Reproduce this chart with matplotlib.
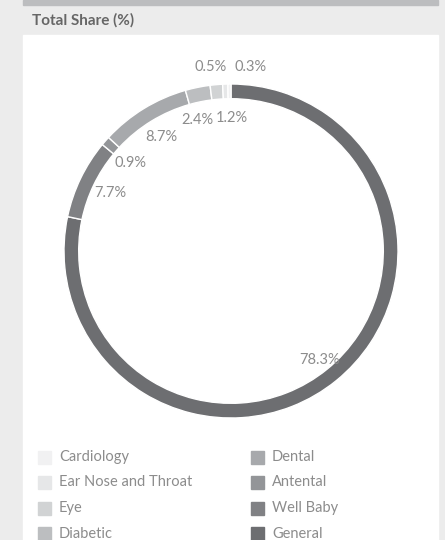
"""
Donut chart of total share by clinic type.
"""

import matplotlib
matplotlib.use('Agg')
import matplotlib.pyplot as plt
from matplotlib.patches import Rectangle
import numpy as np

# Data (clockwise from 12 o'clock)
categories = ['General', 'Well Baby', 'Antental', 'Dental',
              'Diabetic', 'Eye', 'Ear Nose and Throat', 'Cardiology']
shares = [78.3, 7.7, 0.9, 8.7, 2.4, 1.2, 0.5, 0.3]
colors = ['#6d6e71', '#808184', '#939598', '#a7a9ac',
          '#bcbec0', '#d1d3d4', '#e6e7e8', '#f1f1f2']

# legend order (two columns of four)
legend_order = ['Cardiology', 'Ear Nose and Throat', 'Eye', 'Diabetic',
                'Dental', 'Antental', 'Well Baby', 'General']

W, H = 445, 540
plt.rcParams['font.family'] = ['Lato', 'DejaVu Sans']

fig = plt.figure(figsize=(W / 100, H / 100), dpi=100, facecolor='#ececec')

# top band and white panel
fig.patches.append(Rectangle((23 / W, 1 - 5 / H), 415 / W, 5 / H,
                             transform=fig.transFigure, color='#bcbdbf', zorder=-2))
fig.patches.append(Rectangle((23 / W, 0), 415 / W, 1 - 35 / H,
                             transform=fig.transFigure, color='white', zorder=-2))
fig.text(32 / W, 1 - 20 / H, 'Total Share (%)', fontsize=11, fontweight='bold',
         color='#666666', va='center', ha='left')

# donut
cx, cy, R = 231, 251, 167
ax = fig.add_axes([(cx - R) / W, (H - cy - R) / H, 2 * R / W, 2 * R / H])
ax.set_zorder(1)
ax.pie(shares, colors=colors, startangle=90, counterclock=False, radius=1,
       wedgeprops=dict(width=0.088, edgecolor='white', linewidth=1))
ax.set_xlim(-1, 1)
ax.set_ylim(-1, 1)
ax.axis('off')

# percentage labels (small sideways nudges keep neighbours apart)
nudge = {2.4: -0.04, 1.2: 0.075}
cum = np.cumsum(shares) - np.array(shares) / 2
for val, mid in zip(shares, cum):
    theta = np.deg2rad(90 - mid / 100 * 360)
    if val < 0.8:
        # tiny slices labelled above the ring
        side = -1 if val >= 0.4 else 1
        x, y = side * 0.12, 1.10
    else:
        r = 0.80 if val < 50 else 0.84
        x, y = r * np.cos(theta) + nudge.get(val, 0), r * np.sin(theta)
    ax.text(x, y, f'{val:.1f}%', ha='center', va='center', fontsize=10.5,
            color='#8c8c8c')

# legend
for i, name in enumerate(legend_order):
    col, row = divmod(i, 4)
    sx = 38 if col == 0 else 251
    yc = 457 + row * 25.5
    c = colors[categories.index(name)]
    fig.patches.append(Rectangle((sx / W, 1 - (yc + 6.5) / H), 13 / W, 13 / H,
                                 transform=fig.transFigure, color=c))
    fig.text((sx + 21) / W, 1 - yc / H, name, fontsize=10.5, color='#8c8c8c',
             va='center', ha='left')

fig.savefig('out.png', dpi=100, facecolor=fig.get_facecolor())
